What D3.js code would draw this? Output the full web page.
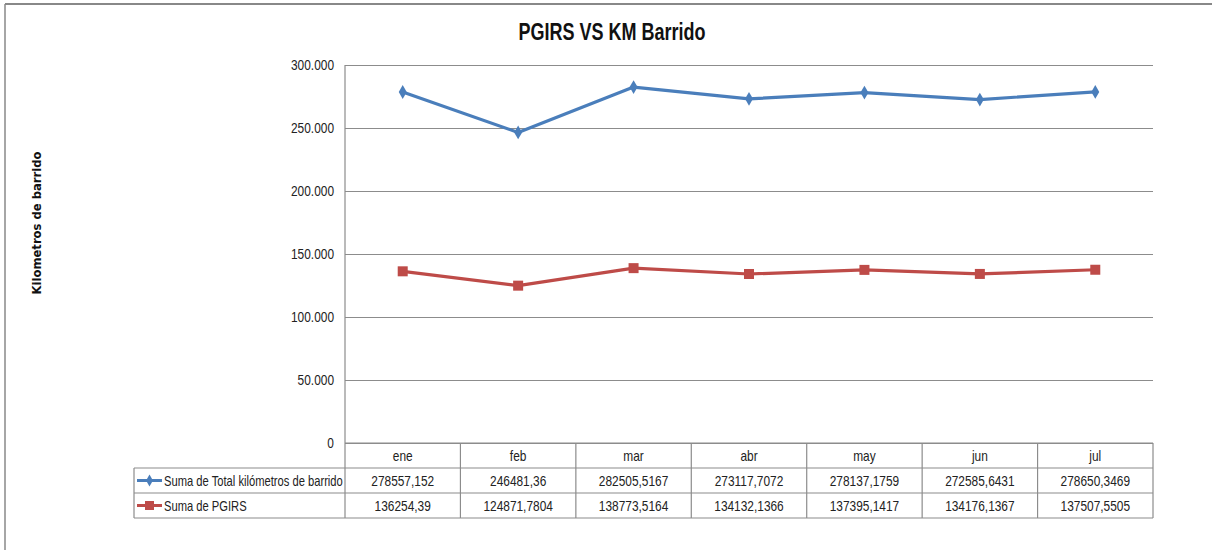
<!DOCTYPE html>
<html><head><meta charset="utf-8">
<script src="https://cdn.jsdelivr.net/npm/d3@7"></script>
<style>
body{margin:0;background:#fff;}
svg{display:block;}
text{font-family:"Liberation Sans","Arial",sans-serif;}
</style></head><body>
<svg id="c" width="1212" height="550"></svg>
<script>
const months = ["ene","feb","mar","abr","may","jun","jul"];
const totalKm = [278557.152,246481.36,282505.5167,273117.7072,278137.1759,272585.6431,278650.3469];
const pgirs = [136254.39,124871.7804,138773.5164,134132.1366,137395.1417,134176.1367,137507.5505];
const totalKmLabels = ["278557,152","246481,36","282505,5167","273117,7072","278137,1759","272585,6431","278650,3469"];
const pgirsLabels = ["136254,39","124871,7804","138773,5164","134132,1366","137395,1417","134176,1367","137507,5505"];
const yTicks = [0,50000,100000,150000,200000,250000,300000];
const seriesNames = ["Suma de Total kilómetros de barrido","Suma de PGIRS"];
const colors = ["#4a7ebb","#be4b48"];

const svg = d3.select("#c");
const gridC = "#8c8c8c";
const SX = 0.85;
function ctext(parent, x, y, str, opts={}) {
  const t = parent.append("text")
    .attr("transform", `translate(${x},${y}) scale(${opts.sx||SX},1)`)
    .attr("text-anchor", opts.anchor||"middle")
    .attr("font-size", opts.size||13)
    .attr("fill", opts.fill||"#222")
    .text(str);
  if (opts.weight) t.attr("font-weight", opts.weight);
  return t;
}

// outer frame
svg.append("line").attr("x1",5).attr("x2",1212).attr("y1",4).attr("y2",4).attr("stroke","#888").attr("stroke-width",2);
svg.append("line").attr("x1",5).attr("x2",5).attr("y1",4).attr("y2",550).attr("stroke","#888").attr("stroke-width",1.5);

const x = d3.scaleBand().domain(months).range([345,1153]);
const y = d3.scaleLinear().domain([0,300000]).range([443,65]);

// title
ctext(svg, 612, 40, "PGIRS VS KM Barrido", {size:24, weight:"bold", fill:"#111", sx:0.75});

// y axis title
svg.append("text").attr("transform","translate(41,223) rotate(-90)").attr("text-anchor","middle")
  .style("font-family","'DejaVu Sans',Verdana,sans-serif").attr("font-size",11.6).attr("font-weight","bold").attr("fill","#111")
  .text("Kilometros de barrido");

// gridlines
const yAxis = d3.axisLeft(y).tickValues(yTicks).tickSize(-(1153-345)).tickFormat("");
const gy = svg.append("g").attr("transform","translate(345,0)").call(yAxis);
gy.select(".domain").remove();
gy.selectAll(".tick line").attr("stroke",gridC).attr("stroke-width",1.2);
yTicks.forEach(v=>{
  ctext(svg, 334, y(v)+5, v===0 ? "0" : (v/1000)+".000", {anchor:"end", size:14});
});

svg.append("line").attr("x1",345).attr("x2",345).attr("y1",65).attr("y2",518).attr("stroke",gridC).attr("stroke-width",1.2);

// table
const rowY = [443,468,493,518];
svg.append("line").attr("x1",345).attr("x2",1153).attr("y1",443).attr("y2",443).attr("stroke",gridC).attr("stroke-width",1.2);
[468,493,518].forEach(yy=>{
  svg.append("line").attr("x1",134).attr("x2",1153).attr("y1",yy).attr("y2",yy).attr("stroke",gridC).attr("stroke-width",1.2);
});
svg.append("line").attr("x1",134).attr("x2",134).attr("y1",468).attr("y2",518).attr("stroke",gridC).attr("stroke-width",1.2);
months.forEach(m=>{
  const xr = x(m)+x.bandwidth();
  svg.append("line").attr("x1",xr).attr("x2",xr).attr("y1",443).attr("y2",518).attr("stroke",gridC).attr("stroke-width",1.2);
});
const cx = d => x(d)+x.bandwidth()/2;
months.forEach(m=> ctext(svg, cx(m), 461, m, {size:14}));
[totalKmLabels,pgirsLabels].forEach((labs,i)=>{
  labs.forEach((l,j)=> ctext(svg, cx(months[j]), rowY[i+1]+17.5, l, {size:14}));
});

// legend entries
seriesNames.forEach((n,i)=>{
  const cy = rowY[i+1]+12.5;
  svg.append("line").attr("x1",137).attr("x2",162).attr("y1",cy).attr("y2",cy).attr("stroke",colors[i]).attr("stroke-width",3);
  if(i===0){
    svg.append("path").attr("d",d3.symbol(d3.symbolDiamond,40)()).attr("transform",`translate(149.5,${cy})`).attr("fill",colors[i]);
  } else {
    svg.append("rect").attr("x",145).attr("y",cy-4.5).attr("width",9).attr("height",9).attr("fill",colors[i]);
  }
  ctext(svg, 164, cy+5, n, {anchor:"start", size:14, sx:0.8});
});

// lines
const line = d3.line().x((d,i)=>cx(months[i])).y(d=>y(d));
[totalKm,pgirs].forEach((s,i)=>{
  svg.append("path").datum(s).attr("d",line).attr("fill","none").attr("stroke",colors[i]).attr("stroke-width",3.2).attr("stroke-linejoin","round");
  if(i===0){
    svg.append("g").selectAll("path").data(s).join("path")
      .attr("d",d3.symbol(d3.symbolDiamond,55)()).attr("transform",(d,j)=>`translate(${cx(months[j])},${y(d)})`).attr("fill",colors[i]);
  } else {
    svg.append("g").selectAll("rect").data(s).join("rect")
      .attr("x",(d,j)=>cx(months[j])-5).attr("y",d=>y(d)-5).attr("width",10).attr("height",10).attr("fill",colors[i]);
  }
});
</script>
</body></html>
